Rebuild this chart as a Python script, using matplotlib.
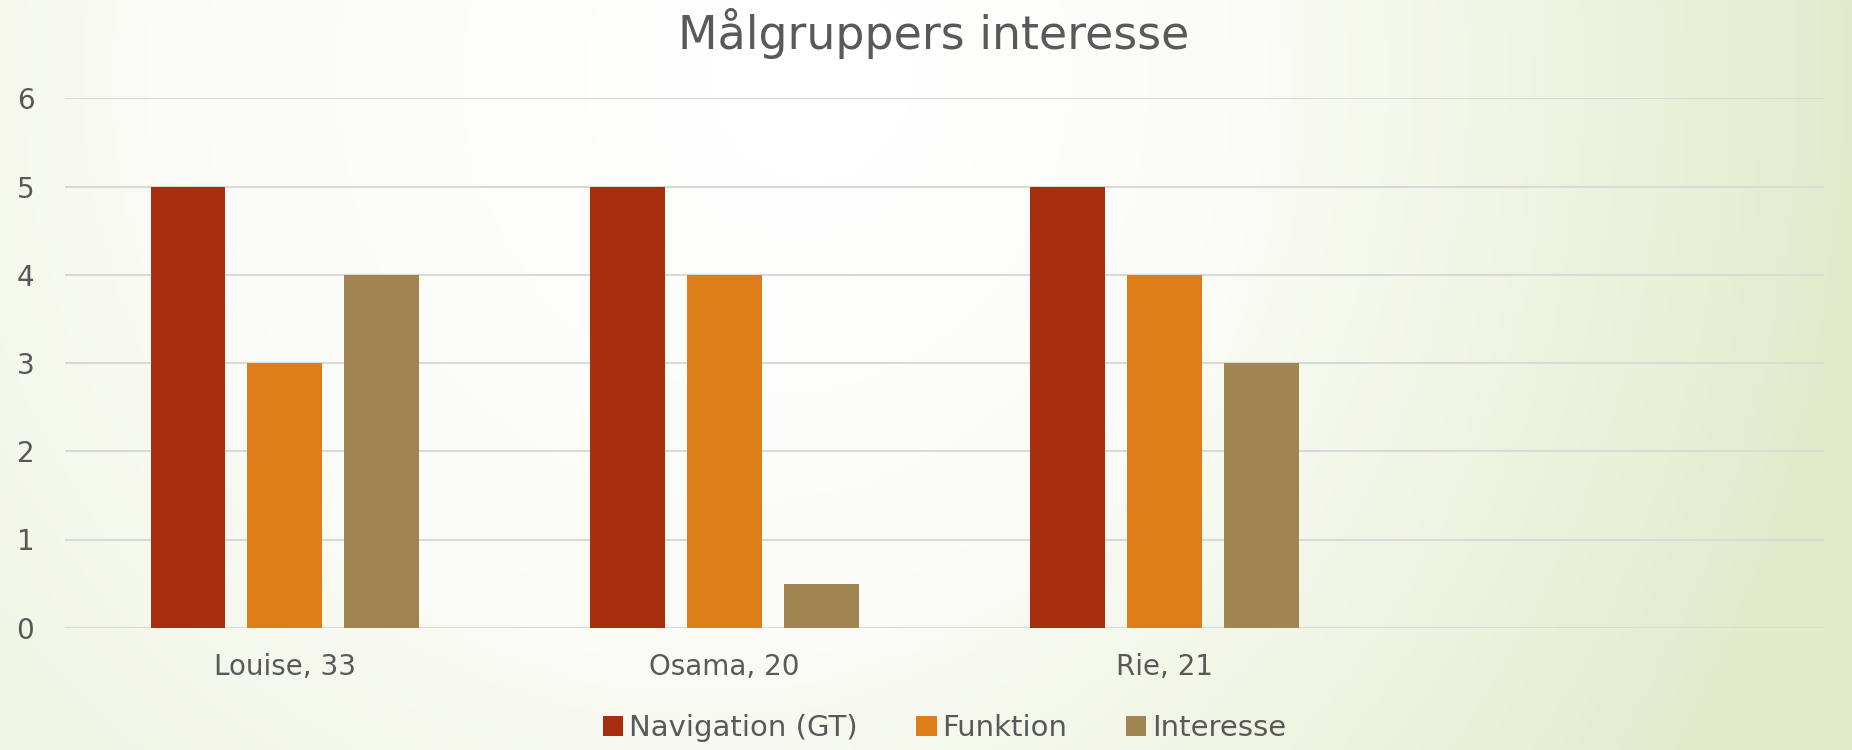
import numpy as np
import matplotlib
matplotlib.use("Agg")
import matplotlib.pyplot as plt
from matplotlib.colors import LinearSegmentedColormap

categories = ["Louise, 33", "Osama, 20", "Rie, 21", ""]
navigation = [5, 5, 5, 0]
funktion = [3, 4, 4, 0]
interesse = [4, 0.5, 3, 0]
series_names = ["Navigation (GT)", "Funktion", "Interesse"]
colors = ["#A52F0F", "#DE7E19", "#A08451"]

plt.rcParams["font.family"] = ["DejaVu Sans"]
text_color = "#595959"

fig = plt.figure(figsize=(18.52, 7.5), dpi=100)

# background gradient: white around the middle top, pale green towards the right
bg = fig.add_axes([0, 0, 1, 1], zorder=-10)
xx, yy = np.meshgrid(np.linspace(0, 1, 400), np.linspace(0, 1, 160))
d = np.sqrt(((xx - 0.45) / 0.75) ** 2 + ((yy - 0.1) / 2.0) ** 2) + 0.3 * xx
cmap = LinearSegmentedColormap.from_list("bg", ["#FFFFFF", "#FBFCF7", "#EFF4E2", "#E1EBCA"])
bg.imshow(d, cmap=cmap, aspect="auto", extent=[0, 1, 0, 1], vmin=0.2, vmax=1.05, origin="upper")
bg.axis("off")

ax = fig.add_axes([0.035, 0.163, 0.95, 0.706])
ax.patch.set_alpha(0)

x = np.arange(len(categories))
w = 0.17
step = 0.22
for i, (vals, name, c) in enumerate(zip([navigation, funktion, interesse], series_names, colors)):
    ax.bar(x + (i - 1) * step, vals, w, color=c, label=name, zorder=3)

ax.set_xlim(-0.5, len(categories) - 0.5)
ax.set_ylim(0, 6)
ax.set_yticks(range(0, 7))
ax.set_xticks(x)
ax.set_xticklabels(categories)
ax.grid(axis="y", color="#D9D9D9", linewidth=1.5, zorder=0)
for s in ax.spines.values():
    s.set_visible(False)
ax.tick_params(axis="both", length=0, labelsize=20, labelcolor=text_color)
ax.tick_params(axis="x", pad=18)
ax.tick_params(axis="y", pad=22)

fig.text(0.504, 0.955, "Målgruppers interesse", ha="center", va="center",
         fontsize=33, color=text_color)

ax.legend(loc="center", bbox_to_anchor=(0.5, -0.19), ncol=3, frameon=False,
          fontsize=21, labelcolor=text_color, handlelength=0.7, handleheight=0.7,
          handletextpad=0.2, columnspacing=2.0)

fig.savefig("out.png", dpi=100)
